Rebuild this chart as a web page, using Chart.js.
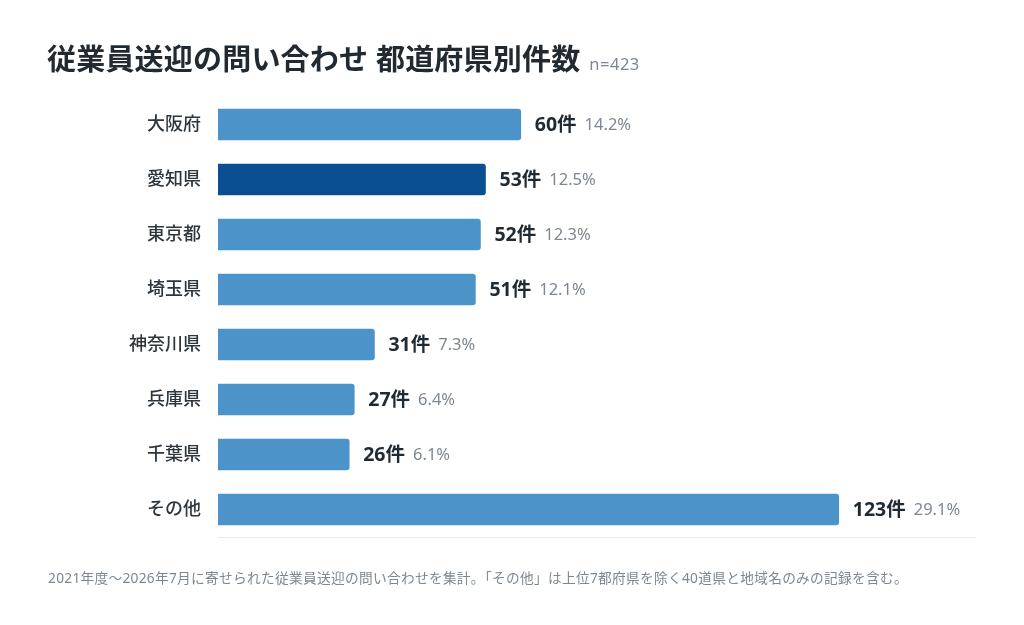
<!DOCTYPE html>
<html lang="ja">
<head>
<meta charset="utf-8">
<script src="https://cdn.jsdelivr.net/npm/chart.js@4"></script>
<style>
  html, body { margin: 0; padding: 0; background: #fff; }
  #wrap { position: relative; width: 1024px; height: 625px; overflow: hidden;
          font-family: "Noto Sans", "Noto Sans CJK JP", sans-serif; }
  #chart { position: absolute; left: 0; top: 0; }
  .title { position: absolute; left: 47px; top: 36px; font-size: 29px; font-weight: 700;
           color: #222a31; letter-spacing: 0.2px; white-space: nowrap; }
  .title .n { font-size: 16.5px; font-weight: 400; color: #7d8791; margin-left: 9px; letter-spacing: 0.5px; }
  .note { position: absolute; left: 48px; top: 567px; font-size: 13.7px; color: #7d8791;
          white-space: nowrap; letter-spacing: 0.3px; }
</style>
</head>
<body>
<div id="wrap">
  <canvas id="chart" width="1024" height="625"></canvas>
  <div class="title">従業員送迎の問い合わせ 都道府県別件数<span class="n">n=423</span></div>
  <div class="note">2021年度～2026年7月に寄せられた従業員送迎の問い合わせを集計。「その他」は上位7都府県を除く40道県と地域名のみの記録を含む。</div>
</div>
<script>
// data
const prefectures = ['大阪府', '愛知県', '東京都', '埼玉県', '神奈川県', '兵庫県', '千葉県', 'その他'];
const counts = [60, 53, 52, 51, 31, 27, 26, 123];
const shares = [14.2, 12.5, 12.3, 12.1, 7.3, 6.4, 6.1, 29.1];
const highlight = '愛知県';

const FONT = '"Noto Sans", "Noto Sans CJK JP", sans-serif';

// draws "60件 14.2%" at the end of each bar
const valueLabels = {
    id: 'valueLabels',
    afterDatasetsDraw(chart) {
        const ctx = chart.ctx;
        const meta = chart.getDatasetMeta(0);
        ctx.save();
        ctx.textBaseline = 'middle';
        meta.data.forEach((bar, i) => {
            let x = bar.x + 14;
            const y = bar.y + 1;
            ctx.font = '700 19.5px ' + FONT;
            ctx.fillStyle = '#1f2a33';
            const main = counts[i] + '件';
            ctx.fillText(main, x, y);
            x += ctx.measureText(main).width + 8;
            ctx.font = '400 16.5px ' + FONT;
            ctx.fillStyle = '#7d8791';
            ctx.fillText(shares[i].toFixed(1) + '%', x, y);
        });
        ctx.restore();
    }
};

new Chart(document.getElementById('chart').getContext('2d'), {
    type: 'bar',
    data: {
        labels: prefectures,
        datasets: [{
            data: counts,
            backgroundColor: prefectures.map(p => p === highlight ? '#0b4f93' : '#4b93c8'),
            borderRadius: 3,
            borderSkipped: 'start',
            barThickness: 31
        }]
    },
    options: {
        indexAxis: 'y',
        responsive: false,
        animation: false,
        layout: { padding: { left: 0, right: 49, top: 97, bottom: 88 } },
        plugins: {
            legend: { display: false },
            tooltip: { enabled: false }
        },
        scales: {
            x: {
                min: 0,
                max: 150,
                ticks: { display: false },
                grid: { display: false, drawTicks: false },
                border: { display: true, color: '#ececec', width: 1 },
                afterFit(scale) { scale.height = 0; }
            },
            y: {
                ticks: {
                    color: '#2e363d',
                    padding: 17,
                    font: { family: FONT, size: 18, weight: 500 }
                },
                grid: { display: false, drawTicks: false },
                border: { display: false },
                afterFit(scale) { scale.width = 218; }
            }
        }
    },
    plugins: [valueLabels]
});
</script>
</body>
</html>
